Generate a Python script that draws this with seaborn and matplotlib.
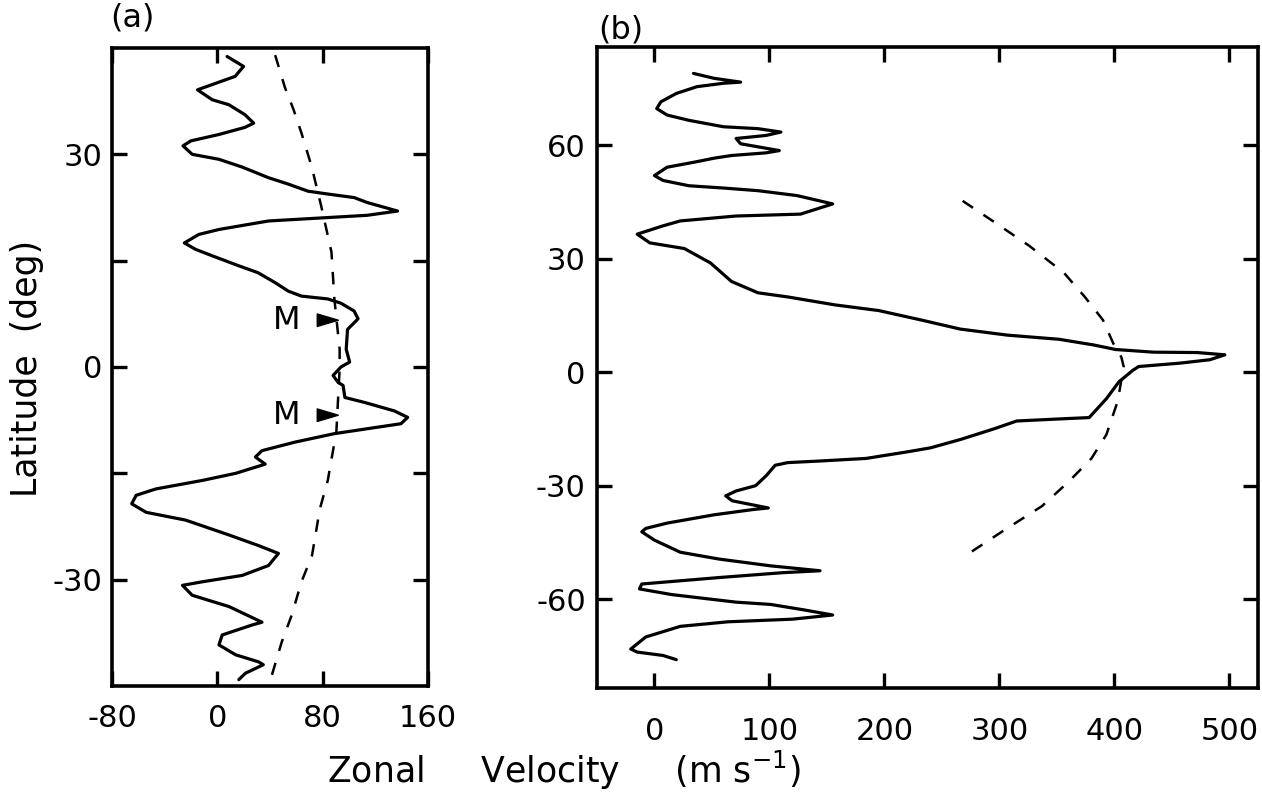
import matplotlib
matplotlib.use('Agg')
import matplotlib.pyplot as plt
import seaborn as sns

# panel (a): zonal velocity profile vs latitude
a_lat = [43.8, 42.4, 41.0, 39.1, 37.7, 37.0, 35.6, 34.4, 33.8, 32.8, 31.9, 31.2, 30.0, 29.3,
         28.2, 26.7, 25.8, 24.8, 24.4, 23.9, 23.2, 22.0, 21.4, 20.6, 19.4, 18.7, 17.5, 16.6,
         15.7, 14.3, 13.3, 11.9, 10.7, 10.0, 9.6, 9.0, 7.9, 6.8, 5.3, 2.5, 0.7, 0.0, -1.2,
         -2.2, -2.6, -4.3, -5.0, -6.2, -7.1, -8.0, -9.4, -10.6, -11.8, -12.7, -13.7, -15.0,
         -16.0, -17.2, -18.1, -19.3, -20.5, -21.6, -23.7, -25.2, -26.3, -28.0, -29.4, -30.3,
         -30.8, -32.2, -33.8, -36.0, -36.4, -37.8, -39.2, -40.6, -41.6, -42.0, -43.2, -44.1]
a_u = [7.5, 20, 13.6, -15, -3.8, 8.8, 21, 27.7, 21, 1.3, -20, -26, -19, 1.3,
       19, 39, 54, 69, 84, 104, 114, 137, 114, 39, 1.3, -14, -25, -16.5,
       -4, 16, 31, 44, 54, 64, 84, 94, 104, 107, 99, 98, 100.6, 94, 88,
       92, 95.6, 97, 112, 134.6, 144.7, 139.6, 89, 59, 34, 29, 36.5, 14,
       -11.3, -46.6, -61.6, -65, -54, -24, 9, 31.5, 46.5, 39, 19, -11.3,
       -26.4, -19, 9, 34, 26.4, 3.8, 1.3, 14, 31.5, 35, 21.4, 16.4]

a_dash_lat = [44, 39.4, 36.3, 33, 28.3, 22.7, 16.2, 9.6, 2.5, -0.3, -9.2, -13, -16, -20,
              -26.6, -30.3, -35, -38.8, -44.4]
a_dash_u = [44, 51.5, 58, 64, 71.7, 79, 86.8, 89, 93, 93, 90.5, 86.8, 84, 78,
            72, 64, 56.6, 49, 40]

# "M" marks in panel (a)
m_lat = [6.6, -6.8]
m_u_tip = [92, 92]
m_u_base = [76, 76]

# panel (b)
b_lat = [79, 77.7, 76.7, 76.4, 75.5, 73.7, 71.5, 69.7, 68, 66.6, 64.9, 64.4, 63.5, 62.6,
         61.8, 60.4, 58.6, 58, 57.3, 56.6, 55.5, 54.2, 52, 50.7, 49.3, 48.7, 48, 46.7,
         44.5, 41.8, 41.3, 40, 38.7, 36.5, 34.2, 32.7, 28.9, 24, 21, 19.9, 17.8, 16.3,
         13.8, 11.4, 9.8, 8.7, 7.2, 6, 5.3, 5.2, 4.6, 3.3, 2.4, 1.5, 0.5, -2.5, -7,
         -12, -12.3, -12.9, -14.9, -17.8, -20, -21, -22.8, -23.5, -23.9, -24.6, -27.3,
         -30, -31.4, -32.7, -34, -35.9, -36.3, -37.7, -39.9, -41.3, -42.2, -44.4, -47.6,
         -49.4, -51.2, -52.5, -53, -54.3, -56, -57.3, -58.8, -60.8, -61.4, -62.9, -64.2,
         -65.3, -66, -67.2, -70, -73.2, -74, -74.9, -76]
b_u = [34, 52, 75, 60, 37, 19, 5.6, 2, 11, 30, 60, 90, 110, 97,
       71, 75, 108.6, 97, 67, 52, 34, 11, 0, 7.5, 30, 60, 90, 124,
       155, 127, 71, 22.5, 7.5, -15, -4, 26, 48.7, 67, 90, 116, 157, 195,
       232, 266, 307, 352, 382, 401, 434, 472, 496, 483, 457, 421, 416, 404, 393,
       378, 356, 315, 296, 266, 240, 221, 184, 142.6, 116, 105, 97.4,
       88, 71, 62, 67.6, 99, 86, 52, 11, -7.5, -11, 0, 22.5,
       56, 101, 144, 112, 56, -11, -13, 15, 71, 101, 131, 155,
       120, 63.7, 22.5, -7.5, -20.6, -15, 7.5, 19]

b_dash_lat = [45.3, 39.6, 33.4, 26.3, 20, 13.8, 7.6, 4, 1.5, -2, -7.5, -16.5, -22.8, -29,
              -35.4, -42, -48]
b_dash_u = [268, 296, 326, 356, 374, 390, 399, 406, 408, 406, 403, 393, 380, 360,
            337, 303, 273]

sns.set_theme(style='ticks')
plt.rcParams['font.family'] = ['DejaVu Sans']
plt.rcParams['axes.unicode_minus'] = False
plt.rcParams['text.color'] = 'black'

fig = plt.figure(figsize=(12.62, 8), dpi=100)
ax_a = fig.add_axes([0.0887, 0.1425, 0.2503, 0.7975])
ax_b = fig.add_axes([0.473, 0.14, 0.524, 0.8013])

lw = 2.3
line_kw = dict(sort=False, estimator=None, color='black', solid_joinstyle='round',
               solid_capstyle='round')
sns.lineplot(x=a_u, y=a_lat, lw=lw, ax=ax_a, **line_kw)
sns.lineplot(x=a_dash_u, y=a_dash_lat, sort=False, estimator=None, color='black', lw=1.8,
             ax=ax_a, linestyle=(0, (5, 5)))
sns.lineplot(x=b_u, y=b_lat, lw=lw, ax=ax_b, **line_kw)
sns.lineplot(x=b_dash_u, y=b_dash_lat, sort=False, estimator=None, color='black', lw=1.8,
             ax=ax_b, linestyle=(0, (5, 5)))

for lat, tip, base in zip(m_lat, m_u_tip, m_u_base):
    ax_a.annotate('', xy=(tip, lat), xytext=(base, lat),
                  arrowprops=dict(arrowstyle='wedge,tail_width=0.45', color='black',
                                  shrinkA=0, shrinkB=0, mutation_scale=20))
    ax_a.text(base - 23, lat, 'M', fontsize=23, ha='center', va='center')

ax_a.set_xlim(-80, 160)
ax_a.set_ylim(-45, 45)
ax_a.set_xticks([-80, 0, 80, 160])
ax_a.set_yticks([-30, 0, 30])
ax_a.set_yticks([-15, 15], minor=True)

ax_b.set_xlim(-50, 525)
ax_b.set_ylim(-83.5, 86)
ax_b.set_xticks([0, 100, 200, 300, 400, 500])
ax_b.set_yticks([-60, -30, 0, 30, 60])

for ax in (ax_a, ax_b):
    ax.set_xlabel('')
    ax.set_ylabel('')
    for s in ax.spines.values():
        s.set_visible(True)
        s.set_linewidth(2.6)
        s.set_color('black')
    ax.tick_params(which='both', direction='in', length=11, width=2.4, top=True, right=True,
                   labelsize=22, colors='black')
ax_a.tick_params(axis='x', pad=13)
ax_a.tick_params(axis='y', pad=7)
ax_b.tick_params(axis='x', pad=21)
ax_b.tick_params(axis='y', pad=8)

fig.text(0.087, 0.977, '(a)', fontsize=23, ha='left', va='center')
fig.text(0.474, 0.962, '(b)', fontsize=23, ha='left', va='center')
fig.text(0.021, 0.54, 'Latitude  (deg)', fontsize=25, rotation=90, ha='center', va='center')
fig.text(0.447, 0.037, 'Zonal     Velocity     (m s$^{-1}$)', fontsize=25,
         ha='center', va='center')

fig.savefig('out.png', dpi=100)
